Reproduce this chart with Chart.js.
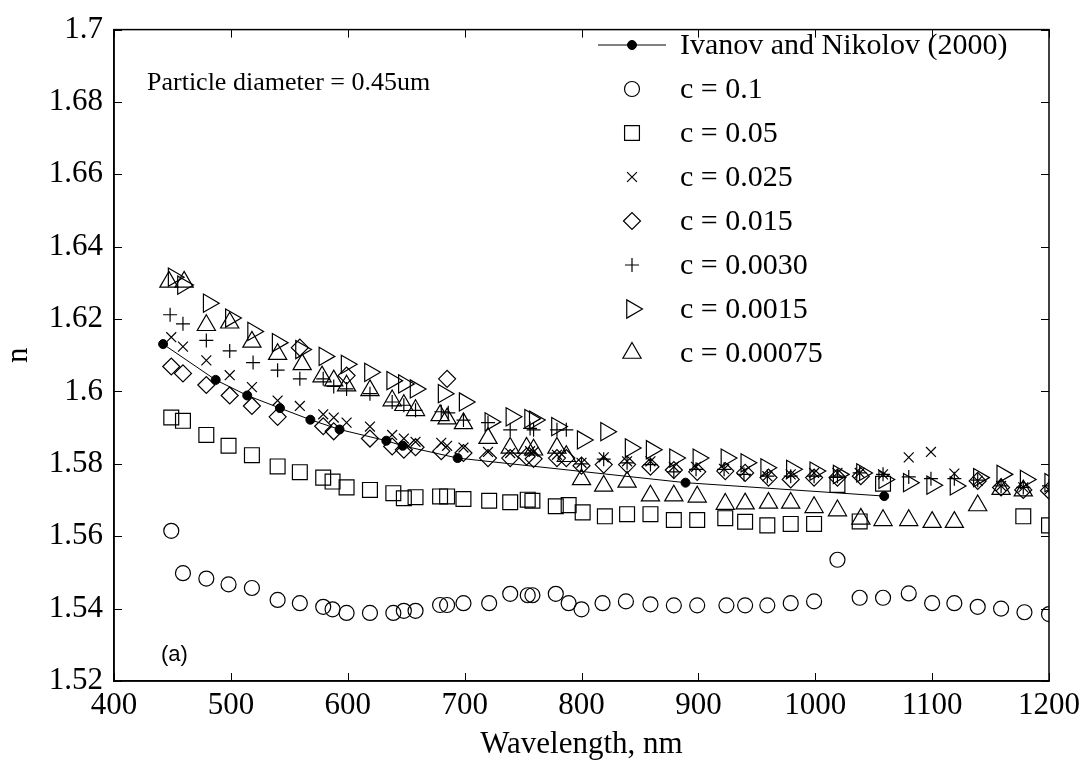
<!DOCTYPE html>
<html><head><meta charset="utf-8">
<script src="https://cdn.jsdelivr.net/npm/chart.js@4.4.1/dist/chart.umd.min.js"></script>
<style>html,body{margin:0;padding:0;background:#fff;}#wrap{width:1088px;height:767px;position:relative;}</style>
</head><body><div id="wrap"><canvas id="c" width="1088" height="767"></canvas></div>
<script>
const xTickLabels = ['400','500','600','700','800','900','1000','1100','1200'];
const yTickLabels = ['1.52','1.54','1.56','1.58','1.6','1.62','1.64','1.66','1.68','1.7'];
const seriesNames = ['Ivanov and Nikolov (2000)','c = 0.1','c = 0.05','c = 0.025','c = 0.015','c = 0.0030','c = 0.0015','c = 0.00075'];

const ivanovX = [442,487,514,542,568,593,633,647,694,889,1059];
const ivanovY = [1.6131,1.6032,1.5989,1.5954,1.5922,1.5895,1.5864,1.5850,1.5816,1.5748,1.5711];

const c0100X = [449,459,479,498,518,540,559,579,587,599,619,639,648,658,679,685,699,721,739,754,758,778,789,800,818,838,859,879,899,924,940,959,979,999,1019,1038,1058,1080,1100,1119,1139,1159,1179,1200];
const c0100Y = [1.5615,1.5498,1.5483,1.5467,1.5457,1.5424,1.5415,1.5405,1.5398,1.5388,1.5388,1.5388,1.5394,1.5394,1.5410,1.5410,1.5415,1.5415,1.5441,1.5437,1.5437,1.5441,1.5415,1.5398,1.5415,1.5420,1.5412,1.5409,1.5409,1.5409,1.5409,1.5409,1.5415,1.5420,1.5535,1.5430,1.5430,1.5442,1.5415,1.5415,1.5405,1.5400,1.5390,1.5385];

const c0050X = [449,459,479,498,518,540,559,579,587,599,619,639,648,658,679,685,699,721,739,754,758,778,789,801,820,839,859,879,899,923,940,959,979,999,1019,1038,1058,1178,1200];
const c0050Y = [1.5928,1.5919,1.5880,1.5850,1.5824,1.5793,1.5777,1.5762,1.5751,1.5735,1.5728,1.5719,1.5705,1.5708,1.5710,1.5710,1.5703,1.5698,1.5694,1.5701,1.5698,1.5683,1.5686,1.5666,1.5655,1.5661,1.5661,1.5645,1.5645,1.5650,1.5640,1.5630,1.5634,1.5634,1.5742,1.5641,1.5745,1.5655,1.5630];

const c0025X = [449,459,479,499,518,540,559,579,588,599,619,638,648,658,680,685,699,720,739,756,759,779,800,819,839,859,879,898,922,940,959,979,999,1019,1038,1058,1080,1099,1119,1139,1159,1178,1200];
const c0025Y = [1.6150,1.6124,1.6086,1.6045,1.6012,1.5975,1.5960,1.5937,1.5928,1.5914,1.5903,1.5880,1.5870,1.5861,1.5858,1.5850,1.5845,1.5833,1.5830,1.5835,1.5833,1.5825,1.5803,1.5818,1.5807,1.5807,1.5792,1.5792,1.5786,1.5780,1.5766,1.5771,1.5775,1.5775,1.5775,1.5771,1.5818,1.5833,1.5773,1.5753,1.5739,1.5735,1.5728];

const c0015X = [449,459,479,499,518,540,559,579,588,599,619,638,648,658,680,685,699,720,739,753,759,779,787,800,819,839,859,879,899,923,940,960,979,999,1019,1039,1139,1159,1178,1200];
const c0015Y = [1.6069,1.6050,1.6018,1.5989,1.5960,1.5930,1.6121,1.5904,1.5890,1.6044,1.5870,1.5848,1.5839,1.5846,1.5835,1.6035,1.5830,1.5816,1.5816,1.5820,1.5814,1.5816,1.5816,1.5795,1.5798,1.5798,1.5792,1.5783,1.5778,1.5780,1.5775,1.5762,1.5757,1.5762,1.5762,1.5766,1.5753,1.5735,1.5728,1.5726];

const c0030X = [448,459,479,499,519,540,559,579,588,599,619,638,648,658,680,686,699,720,739,756,759,779,787,800,819,839,859,879,898,922,939,959,979,999,1019,1038,1058,1080,1099,1119,1139,1159,1178,1200];
const c0030Y = [1.6212,1.6187,1.6141,1.6112,1.6080,1.6059,1.6035,1.6035,1.6014,1.6007,1.5994,1.5971,1.5962,1.5948,1.5944,1.5941,1.5921,1.5914,1.5894,1.5898,1.5894,1.5894,1.5894,1.5800,1.5813,1.5803,1.5798,1.5778,1.5785,1.5785,1.5771,1.5766,1.5766,1.5766,1.5766,1.5775,1.5771,1.5764,1.5759,1.5759,1.5755,1.5739,1.5735,1.5739];

const c00015X = [451,459,481,500,519,540,560,580,599,619,638,648,658,682,700,722,740,756,760,779,801,821,842,860,880,900,924,941,958,980,1000,1020,1040,1059,1080,1100,1120,1140,1160,1180,1201];
const c00015Y = [1.6316,1.6294,1.6244,1.6203,1.6166,1.6135,1.6116,1.6097,1.6075,1.6053,1.6030,1.6021,1.6007,1.5994,1.5971,1.5916,1.5930,1.5925,1.5921,1.5903,1.5866,1.5889,1.5844,1.5839,1.5816,1.5816,1.5816,1.5803,1.5789,1.5785,1.5780,1.5771,1.5775,1.5757,1.5748,1.5741,1.5739,1.5762,1.5771,1.5757,1.5748];

const c000075X = [447,460,479,499,518,540,561,578,588,599,619,638,648,658,679,685,699,720,739,753,759,779,787,800,819,839,859,879,899,923,940,960,979,999,1019,1039,1058,1080,1100,1119,1139,1159,1178];
const c000075Y = [1.6303,1.6303,1.6183,1.6190,1.6137,1.6103,1.6075,1.6041,1.6030,1.6016,1.6003,1.5975,1.5962,1.5948,1.5934,1.5925,1.5912,1.5871,1.5844,1.5844,1.5839,1.5844,1.5821,1.5757,1.5739,1.5750,1.5712,1.5712,1.5709,1.5689,1.5690,1.5692,1.5692,1.5680,1.5671,1.5648,1.5644,1.5644,1.5639,1.5639,1.5685,1.5730,1.5726];

const pts = (xs, ys) => xs.map((x, i) => ({x: x, y: ys[i]}));
const CLEAR = 'rgba(0,0,0,0)';
function markerSet(label, xs, ys, style, radius, rotation) {
  return {label: label, data: pts(xs, ys), showLine: false, pointStyle: style, pointRadius: radius,
    pointRotation: rotation || 0, pointBorderColor: '#000', pointBackgroundColor: CLEAR,
    pointBorderWidth: 1.2, borderColor: '#000', backgroundColor: CLEAR};
}
const datasets = [
  {label: seriesNames[0], data: pts(ivanovX, ivanovY), showLine: true, borderColor: '#000', borderWidth: 1,
   pointStyle: 'circle', pointRadius: 4.5, pointBackgroundColor: '#000', pointBorderColor: '#000',
   pointBorderWidth: 1, backgroundColor: '#000', tension: 0},
  markerSet(seriesNames[1], c0100X, c0100Y, 'circle', 7.5),
  markerSet(seriesNames[2], c0050X, c0050Y, 'rect', 10.5),
  markerSet(seriesNames[3], c0025X, c0025Y, 'crossRot', 7),
  markerSet(seriesNames[4], c0015X, c0015Y, 'rectRot', 8.5),
  markerSet(seriesNames[5], c0030X, c0030Y, 'cross', 7),
  markerSet(seriesNames[6], c00015X, c00015Y, 'triangle', 10.5, 90),
  markerSet(seriesNames[7], c000075X, c000075Y, 'triangle', 10.5)
];

const framePlugin = {
  id: 'frame',
  afterDatasetsDraw(chart) {
    const {ctx, chartArea: a, scales: {x, y}} = chart;
    ctx.save();
    ctx.strokeStyle = '#000';
    ctx.lineWidth = 1.5;
    ctx.strokeRect(a.left, a.top, a.right - a.left, a.bottom - a.top);
    ctx.lineWidth = 1;
    const L = 8;
    ctx.beginPath();
    x.ticks.forEach(t => {
      const px = Math.round(x.getPixelForValue(t.value)) + 0.5;
      ctx.moveTo(px, a.bottom); ctx.lineTo(px, a.bottom - L);
      ctx.moveTo(px, a.top); ctx.lineTo(px, a.top + L);
    });
    y.ticks.forEach(t => {
      const py = Math.round(y.getPixelForValue(t.value)) + 0.5;
      ctx.moveTo(a.left, py); ctx.lineTo(a.left + L, py);
      ctx.moveTo(a.right, py); ctx.lineTo(a.right - L, py);
    });
    ctx.stroke();
    ctx.restore();
  }
};

const legendPlugin = {
  id: 'innerLegend',
  afterDraw(chart) {
    const ctx = chart.ctx;
    const mx = 632, tx = 680, y0 = 45, dy = 44;
    ctx.save();
    ctx.font = '30px "Liberation Serif"';
    ctx.fillStyle = '#000';
    ctx.textBaseline = 'middle';
    ctx.textAlign = 'left';
    chart.data.datasets.forEach((ds, i) => {
      const yy = y0 + i * dy;
      ctx.strokeStyle = '#000';
      if (i === 0) {
        ctx.lineWidth = 1;
        ctx.beginPath(); ctx.moveTo(598, yy); ctx.lineTo(666, yy); ctx.stroke();
      }
      ctx.lineWidth = ds.pointBorderWidth;
      ctx.fillStyle = ds.pointBackgroundColor;
      Chart.helpers.drawPoint(ctx, {pointStyle: ds.pointStyle, radius: ds.pointRadius,
        rotation: ds.pointRotation || 0, borderWidth: ds.pointBorderWidth}, mx, yy);
      ctx.fillStyle = '#000';
      ctx.fillText(ds.label, tx, yy + 1);
    });
    ctx.font = '26px "Liberation Serif"';
    ctx.fillText('Particle diameter = 0.45um', 147, 83);
    ctx.font = '22px "Liberation Sans"';
    ctx.fillText('(a)', 161, 655);
    ctx.restore();
  }
};

const tickFont = {family: 'Liberation Serif', size: 31};
new Chart(document.getElementById('c'), {
  type: 'scatter',
  data: {datasets: datasets},
  options: {
    responsive: false, animation: false, devicePixelRatio: 1,
    layout: {padding: {left: 0, right: 39, top: 21, bottom: 0}},
    plugins: {legend: {display: false}, tooltip: {enabled: false}},
    scales: {
      x: {type: 'linear', min: 400, max: 1200,
        ticks: {stepSize: 100, autoSkip: false, maxRotation: 0, font: tickFont, color: '#000', padding: 6,
          callback: (v, i) => xTickLabels[i]},
        grid: {drawOnChartArea: false, drawTicks: false},
        border: {display: true, color: '#000', width: 1.5},
        title: {display: true, text: 'Wavelength, nm', color: '#000', font: tickFont, padding: {top: 0, bottom: 4}},
        afterFit: s => { s.height = 86; }
      },
      y: {type: 'linear', min: 1.52, max: 1.7,
        ticks: {stepSize: 0.02, autoSkip: false, font: tickFont, color: '#000', padding: 11,
          callback: (v, i) => yTickLabels[i]},
        grid: {drawOnChartArea: false, drawTicks: false},
        border: {display: true, color: '#000', width: 1.5},
        title: {display: true, text: 'n', color: '#000', font: tickFont, padding: {top: 0, bottom: 4}},
        afterFit: s => { s.width = 114; }
      }
    }
  },
  plugins: [framePlugin, legendPlugin]
});
</script></body></html>
